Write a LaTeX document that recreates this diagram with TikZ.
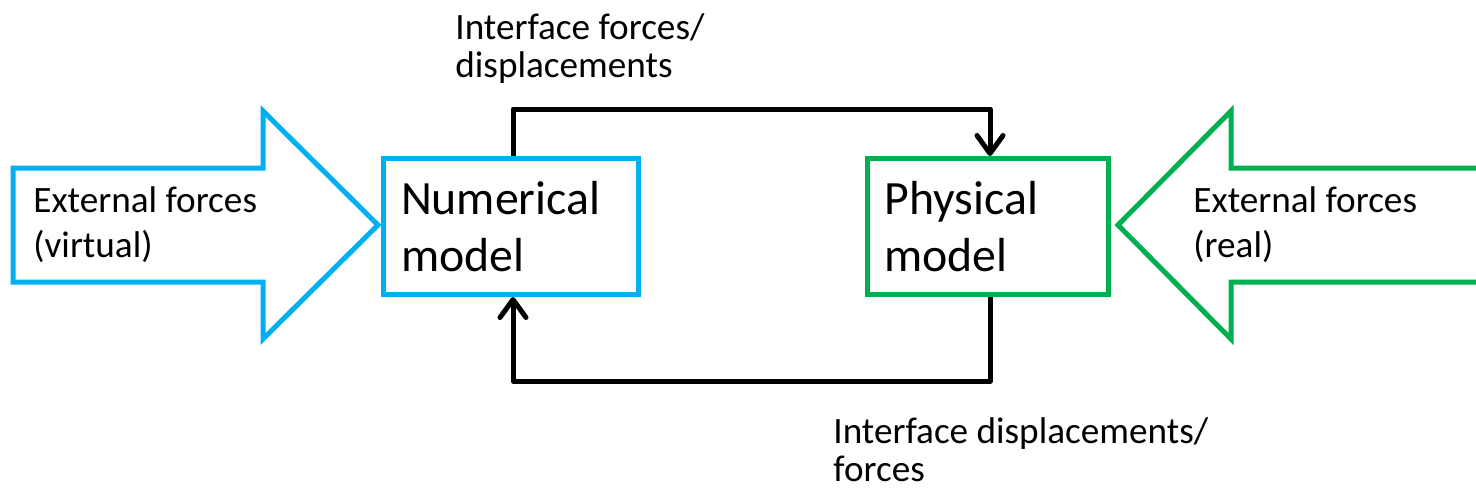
\documentclass[tikz,border=0pt]{standalone}
\usepackage{fontspec}
\setmainfont{Carlito}
\usepackage{tikz}
\usetikzlibrary{positioning, arrows.meta}
\definecolor{numblue}{RGB}{0,176,240}
\definecolor{physgreen}{RGB}{0,176,80}

\begin{document}
\begin{tikzpicture}[
    x=0.5pt, y=-0.5pt,
    every node/.style={font=\fontsize{18.6}{22.4}\selectfont, inner sep=0pt},
    model/.style={rectangle, draw, line width=2.5pt, align=left,
        font=\fontsize{23.9}{28.6}\selectfont, inner xsep=8.75pt,
        inner ysep=0pt, minimum height=68pt},
    note/.style={anchor=base west, align=left},
    arrow/.style={-{Straight Barb[length=9pt, width=13pt, round]},
        line width=2.5pt, line join=round},
    bigarrow/.style={line width=2.5pt, line join=miter},
]
\useasboundingbox (0,0) rectangle (1476,494);

% model boxes
\node[model, draw=numblue, text width=110pt, minimum width=127.5pt]
    (num) at (511,226.5) {Numerical\\model};
\node[model, draw=physgreen, text width=103pt, minimum width=120.5pt]
    (phys) at (987.5,226.5) {Physical\\model};

% external loads (block arrows)
\draw[bigarrow, numblue] (13,168) -- (263,168) -- (263,111) -- (378,225)
    -- (263,339) -- (263,282) -- (13,282) -- cycle;
\draw[bigarrow, physgreen] (1480,168) -- (1231,168) -- (1231,111)
    -- (1118,225) -- (1231,339) -- (1231,282) -- (1480,282);

% (base anchor sits on the last line)
\node[note] (extv) at (33,257) {External forces\\(virtual)};
\node[note] (extr) at (1193,257) {External forces\\(real)};

% interface exchange
\draw[arrow] ([xshift=1pt]num.north) -- ++(0,-47) -| ([xshift=1.25pt]phys.north);
\draw[arrow] ([xshift=1.25pt]phys.south) -- ++(0,84) -| ([xshift=1pt]num.south);

\node[note, font=\fontsize{18.6}{19}\selectfont] (topl) at (455,77)
    {Interface forces/\\displacements};
\node[note, font=\fontsize{18.6}{19}\selectfont] (botl) at (833,481)
    {Interface displacements/\\forces};

\end{tikzpicture}
\end{document}
